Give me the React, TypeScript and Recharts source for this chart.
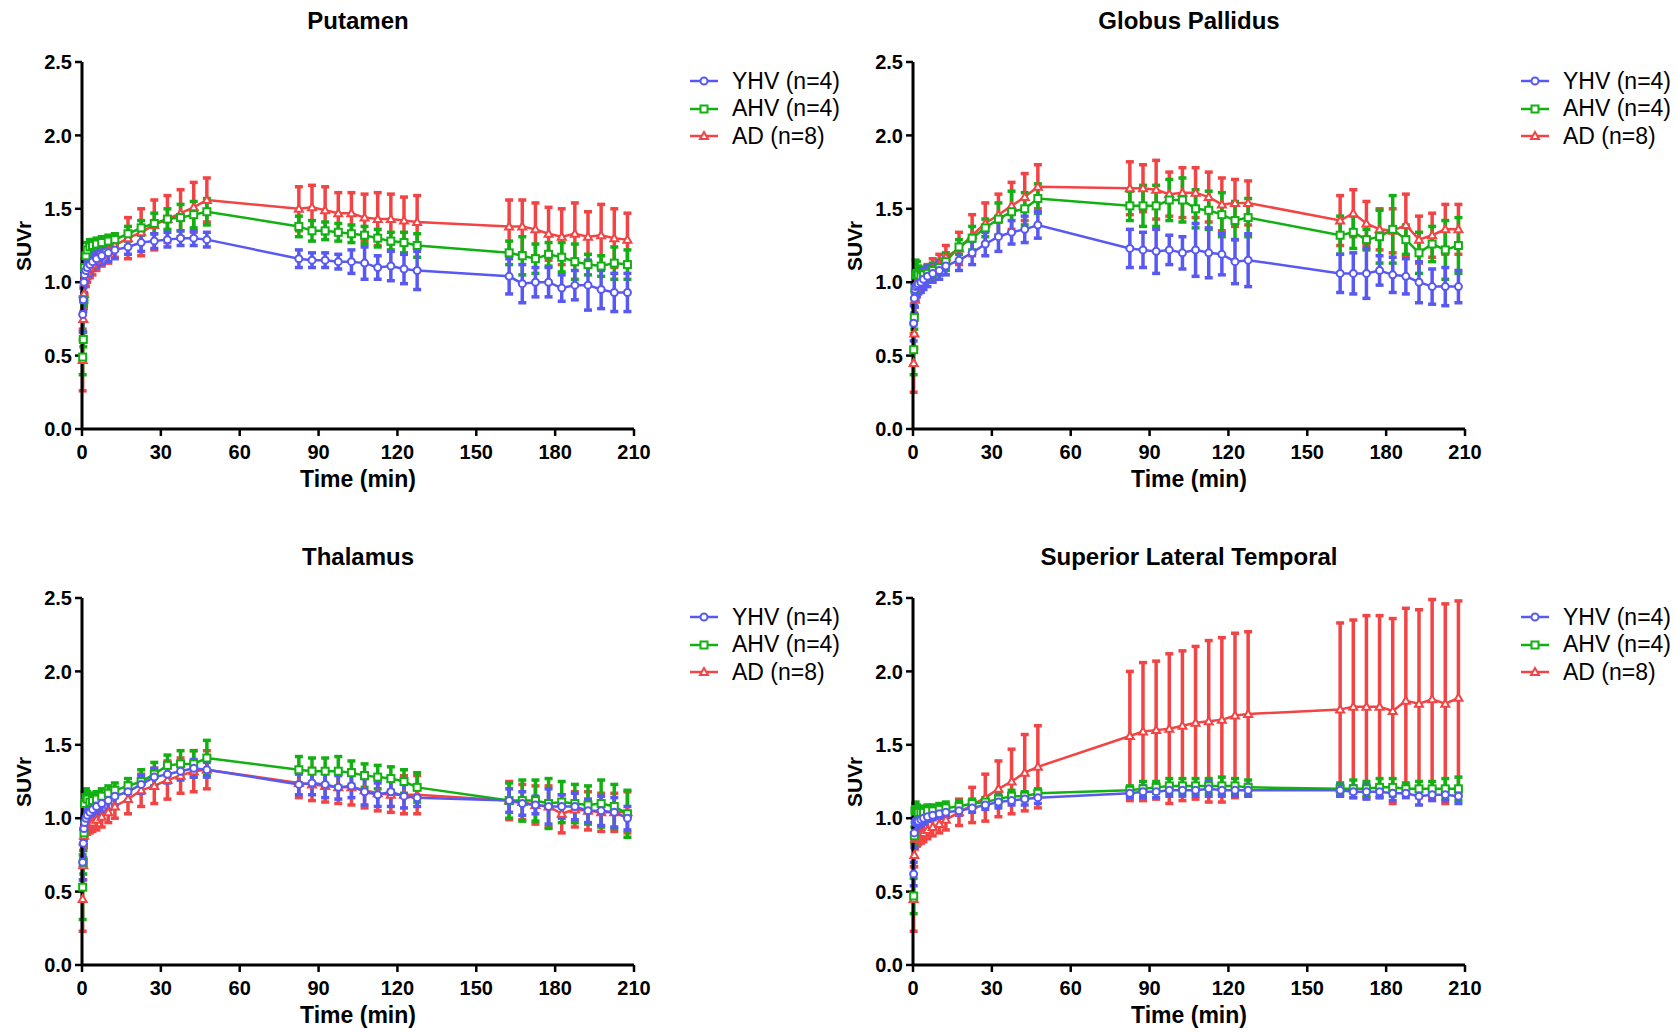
import React from 'react';
import { LineChart, Line, XAxis, YAxis, ErrorBar } from 'recharts';

// frame mid-times (min)
const TIME = [
  0.25, 0.5, 0.75, 1, 1.5, 2, 3, 4, 5.5, 7.5, 10, 12.5,
  17.5, 22.5, 27.5, 32.5, 37.5, 42.5, 47.5,
  82.5, 87.5, 92.5, 97.5, 102.5, 107.5, 112.5, 117.5, 122.5, 127.5,
  162.5, 167.5, 172.5, 177.5, 182.5, 187.5, 192.5, 197.5, 202.5, 207.5,
];
const X_TICKS = [0, 30, 60, 90, 120, 150, 180, 210];
const Y_TICKS = [0, 0.5, 1, 1.5, 2, 2.5];

// Putamen
const PUT_YHV = [0.78,0.88,1.00,1.05,1.08,1.10,1.12,1.14,1.16,1.18,1.20,1.22, 1.24,1.27,1.28,1.29,1.30,1.30,1.29, 1.16,1.15,1.15,1.14,1.14,1.13,1.10,1.11,1.09,1.08, 1.04,0.99,1.00,1.00,0.96,0.98,0.98,0.95,0.93,0.93];
const PUT_YHV_SD = [0.12,0.08,0.07,0.07,0.07,0.07,0.07,0.06,0.06,0.06,0.06,0.06, 0.05,0.06,0.05,0.05,0.05,0.05,0.05, 0.06,0.05,0.05,0.05,0.08,0.11,0.08,0.10,0.10,0.13, 0.12,0.13,0.10,0.10,0.09,0.10,0.17,0.13,0.13,0.13];
const PUT_AHV = [0.49,0.61,0.88,1.10,1.18,1.22,1.24,1.25,1.26,1.27,1.28,1.29, 1.33,1.37,1.40,1.43,1.44,1.46,1.48, 1.38,1.35,1.35,1.34,1.33,1.32,1.30,1.28,1.27,1.25, 1.20,1.18,1.16,1.19,1.17,1.14,1.12,1.11,1.13,1.12];
const PUT_AHV_SD = [0.12,0.05,0.04,0.06,0.05,0.05,0.05,0.04,0.04,0.04,0.04,0.04, 0.05,0.05,0.07,0.07,0.09,0.09,0.09, 0.07,0.07,0.06,0.06,0.06,0.06,0.06,0.06,0.07,0.08, 0.08,0.13,0.10,0.08,0.10,0.12,0.07,0.07,0.11,0.10];
const PUT_AD = [0.47,0.75,0.92,1.00,1.04,1.07,1.10,1.12,1.15,1.18,1.21,1.25, 1.30,1.34,1.39,1.43,1.47,1.51,1.56, 1.50,1.51,1.49,1.47,1.47,1.44,1.43,1.43,1.42,1.41, 1.38,1.38,1.36,1.33,1.31,1.33,1.31,1.32,1.30,1.29];
const PUT_AD_SD = [0.21,0.12,0.10,0.08,0.07,0.07,0.07,0.07,0.07,0.07,0.08,0.08, 0.14,0.16,0.17,0.16,0.16,0.17,0.15, 0.15,0.15,0.16,0.14,0.14,0.16,0.18,0.17,0.16,0.18, 0.18,0.18,0.18,0.18,0.19,0.21,0.17,0.21,0.20,0.18];

// Globus Pallidus
const GP_YHV = [0.72,0.89,0.95,0.97,0.98,0.99,1.00,1.02,1.04,1.06,1.08,1.11, 1.15,1.20,1.26,1.31,1.34,1.36,1.39, 1.23,1.22,1.21,1.22,1.20,1.22,1.20,1.19,1.14,1.15, 1.06,1.06,1.06,1.08,1.05,1.04,1.00,0.97,0.97,0.97];
const GP_YHV_SD = [0.12,0.10,0.12,0.10,0.08,0.07,0.07,0.07,0.07,0.06,0.06,0.06, 0.07,0.08,0.08,0.10,0.08,0.09,0.09, 0.13,0.12,0.15,0.10,0.11,0.18,0.17,0.14,0.15,0.18, 0.13,0.14,0.17,0.10,0.12,0.12,0.14,0.12,0.13,0.11];
const GP_AHV = [0.54,0.76,0.95,1.05,1.06,1.05,1.04,1.05,1.06,1.08,1.10,1.14, 1.24,1.30,1.37,1.43,1.48,1.50,1.57, 1.52,1.52,1.52,1.56,1.56,1.50,1.49,1.46,1.42,1.44, 1.32,1.34,1.29,1.31,1.36,1.29,1.20,1.26,1.22,1.25];
const GP_AHV_SD = [0.17,0.08,0.08,0.10,0.08,0.06,0.06,0.05,0.05,0.05,0.05,0.06, 0.05,0.08,0.06,0.11,0.14,0.11,0.10, 0.10,0.14,0.14,0.14,0.15,0.13,0.13,0.15,0.13,0.13, 0.13,0.11,0.07,0.18,0.23,0.10,0.14,0.12,0.20,0.19];
const GP_AD = [0.45,0.65,0.88,0.96,1.00,1.01,1.02,1.04,1.06,1.09,1.12,1.17, 1.23,1.32,1.40,1.46,1.52,1.58,1.65, 1.64,1.64,1.63,1.60,1.61,1.61,1.58,1.53,1.54,1.54, 1.42,1.47,1.40,1.36,1.35,1.39,1.29,1.32,1.36,1.36];
const GP_AD_SD = [0.20,0.10,0.10,0.08,0.07,0.06,0.06,0.06,0.06,0.07,0.07,0.08, 0.11,0.14,0.14,0.14,0.16,0.16,0.15, 0.18,0.16,0.20,0.15,0.17,0.17,0.17,0.18,0.16,0.15, 0.17,0.16,0.15,0.14,0.15,0.21,0.16,0.15,0.17,0.17];

// Thalamus
const TH_YHV = [0.70,0.83,0.93,0.97,1.00,1.02,1.04,1.06,1.08,1.10,1.12,1.15, 1.18,1.23,1.28,1.30,1.32,1.34,1.33, 1.23,1.24,1.23,1.21,1.22,1.18,1.16,1.18,1.15,1.14, 1.12,1.10,1.09,1.08,1.08,1.08,1.05,1.05,1.04,1.00];
const TH_YHV_SD = [0.12,0.10,0.08,0.06,0.06,0.06,0.06,0.06,0.06,0.06,0.06,0.06, 0.06,0.06,0.06,0.06,0.06,0.06,0.05, 0.07,0.08,0.09,0.08,0.08,0.09,0.08,0.10,0.08,0.06, 0.08,0.08,0.06,0.12,0.08,0.09,0.08,0.10,0.10,0.08];
const TH_AHV = [0.53,0.70,0.90,1.10,1.14,1.13,1.11,1.12,1.13,1.15,1.17,1.19, 1.22,1.25,1.30,1.36,1.37,1.37,1.41, 1.33,1.32,1.32,1.32,1.31,1.29,1.28,1.27,1.25,1.21, 1.12,1.12,1.12,1.10,1.11,1.10,1.09,1.10,1.08,1.03];
const TH_AHV_SD = [0.22,0.08,0.08,0.08,0.06,0.05,0.05,0.05,0.05,0.05,0.05,0.05, 0.05,0.08,0.08,0.07,0.09,0.09,0.12, 0.09,0.09,0.09,0.10,0.08,0.08,0.08,0.08,0.08,0.10, 0.12,0.14,0.14,0.17,0.14,0.13,0.13,0.16,0.15,0.16];
const TH_AD = [0.45,0.68,0.88,0.94,0.95,0.95,0.96,0.97,0.99,1.01,1.04,1.08, 1.13,1.19,1.22,1.26,1.29,1.32,1.33, 1.24,1.23,1.22,1.21,1.21,1.19,1.17,1.16,1.16,1.16, 1.12,1.11,1.09,1.08,1.03,1.06,1.05,1.04,1.04,1.04];
const TH_AD_SD = [0.22,0.10,0.08,0.06,0.06,0.06,0.06,0.06,0.07,0.07,0.07,0.08, 0.10,0.11,0.12,0.13,0.12,0.14,0.13, 0.10,0.11,0.11,0.11,0.12,0.12,0.12,0.12,0.13,0.13, 0.13,0.12,0.13,0.14,0.13,0.12,0.13,0.13,0.13,0.14];

// Superior Lateral Temporal
const SLT_YHV = [0.62,0.90,0.97,0.98,0.98,0.98,0.99,1.00,1.01,1.02,1.03,1.04, 1.05,1.07,1.09,1.11,1.12,1.13,1.14, 1.17,1.18,1.18,1.19,1.19,1.19,1.20,1.19,1.19,1.19, 1.19,1.18,1.18,1.18,1.17,1.17,1.15,1.16,1.16,1.15];
const SLT_YHV_SD = [0.08,0.10,0.07,0.06,0.05,0.04,0.04,0.04,0.03,0.03,0.03,0.03, 0.03,0.03,0.03,0.04,0.03,0.04,0.04, 0.03,0.04,0.04,0.04,0.04,0.04,0.05,0.04,0.04,0.04, 0.04,0.04,0.05,0.04,0.05,0.03,0.06,0.04,0.04,0.05];
const SLT_AHV = [0.47,0.88,1.05,1.06,1.05,1.04,1.04,1.04,1.05,1.05,1.06,1.07, 1.08,1.10,1.11,1.13,1.15,1.15,1.17, 1.19,1.20,1.21,1.22,1.22,1.22,1.22,1.22,1.22,1.21, 1.20,1.20,1.20,1.21,1.21,1.20,1.20,1.20,1.20,1.20];
const SLT_AHV_SD = [0.12,0.06,0.05,0.05,0.04,0.04,0.04,0.04,0.04,0.04,0.04,0.04, 0.04,0.03,0.03,0.04,0.04,0.03,0.03, 0.03,0.05,0.04,0.05,0.05,0.05,0.05,0.06,0.05,0.05, 0.04,0.06,0.05,0.06,0.06,0.04,0.05,0.05,0.07,0.08];
const SLT_AD = [0.45,0.75,0.86,0.87,0.87,0.88,0.89,0.90,0.92,0.94,0.96,0.99, 1.04,1.09,1.14,1.20,1.25,1.31,1.35, 1.56,1.59,1.60,1.61,1.63,1.65,1.66,1.67,1.70,1.71, 1.74,1.76,1.76,1.76,1.73,1.80,1.78,1.81,1.78,1.82];
const SLT_AD_SD = [0.22,0.08,0.07,0.06,0.06,0.06,0.06,0.06,0.06,0.06,0.06,0.07, 0.09,0.12,0.16,0.19,0.22,0.26,0.28, 0.44,0.47,0.47,0.51,0.51,0.52,0.55,0.56,0.56,0.56, 0.59,0.59,0.62,0.62,0.63,0.63,0.64,0.68,0.68,0.66];

const BLUE = '#5858f2';
const GREEN = '#12b012';
const RED = '#f24444';
const FONT = '"Liberation Sans", Arial, sans-serif';

const circleDot = (color: string) => (p: any) =>
  p.cx == null ? null : (
    <circle key={`c-${p.index}`} cx={p.cx} cy={p.cy} r={3.5} fill="#fff" stroke={color} strokeWidth={2} />
  );
const squareDot = (color: string) => (p: any) =>
  p.cx == null ? null : (
    <rect key={`s-${p.index}`} x={p.cx - 3.5} y={p.cy - 3.5} width={7} height={7} fill="#fff" stroke={color} strokeWidth={2} />
  );
const triangleDot = (color: string) => (p: any) =>
  p.cx == null ? null : (
    <polygon
      key={`t-${p.index}`}
      points={`${p.cx},${p.cy - 4} ${p.cx - 4},${p.cy + 3} ${p.cx + 4},${p.cy + 3}`}
      fill="#fff"
      stroke={color}
      strokeWidth={2}
    />
  );

const LEGEND = [
  { label: 'YHV (n=4)', color: BLUE, shape: 'circle' },
  { label: 'AHV (n=4)', color: GREEN, shape: 'square' },
  { label: 'AD (n=8)', color: RED, shape: 'triangle' },
];

const LegendIcon = ({ color, shape }: { color: string; shape: string }) => (
  <svg width={28} height={14} style={{ display: 'block' }}>
    <line x1={0} y1={7} x2={28} y2={7} stroke={color} strokeWidth={2.5} />
    {shape === 'circle' && <circle cx={14} cy={7} r={3.5} fill="#fff" stroke={color} strokeWidth={2} />}
    {shape === 'square' && <rect x={10.5} y={3.5} width={7} height={7} fill="#fff" stroke={color} strokeWidth={2} />}
    {shape === 'triangle' && <polygon points="14,3 10,10 18,10" fill="#fff" stroke={color} strokeWidth={2} />}
  </svg>
);

interface PanelProps {
  left: number;
  top: number;
  title: string;
  yhv: number[];
  yhvSd: number[];
  ahv: number[];
  ahvSd: number[];
  ad: number[];
  adSd: number[];
}

const Panel: React.FC<PanelProps> = ({ left, top, title, yhv, yhvSd, ahv, ahvSd, ad, adSd }) => {
  const data = TIME.map((t, i) => ({
    t,
    yhv: yhv[i],
    yhvSd: yhvSd[i],
    ahv: ahv[i],
    ahvSd: ahvSd[i],
    ad: ad[i],
    adSd: adSd[i],
  }));

  const tick = { fill: '#000', fontSize: 20, fontWeight: 700, fontFamily: FONT };
  const axisLine = { stroke: '#000', strokeWidth: 3 };
  const tickLine = { stroke: '#000', strokeWidth: 2.5 };

  return (
    <div style={{ position: 'absolute', left, top, width: 830, height: 500, fontFamily: FONT }}>
      <div style={{ position: 'absolute', left: 82, width: 552, top: 9, textAlign: 'center', fontSize: 24, lineHeight: '24px', fontWeight: 700 }}>
        {title}
      </div>
      <LineChart width={830} height={500} data={data} margin={{ top: 62, right: 196, bottom: 31, left: 0 }}>
        <XAxis
          type="number"
          dataKey="t"
          domain={[0, 210]}
          ticks={X_TICKS}
          height={40}
          tick={tick}
          axisLine={axisLine}
          tickLine={tickLine}
          tickSize={7}
          tickMargin={9}
          interval={0}
        />
        <YAxis
          type="number"
          domain={[0, 2.5]}
          ticks={Y_TICKS}
          width={82}
          tick={tick}
          axisLine={axisLine}
          tickLine={tickLine}
          tickSize={7}
          tickMargin={3}
          interval={0}
          tickFormatter={(v: number) => v.toFixed(1)}
        />
        <Line type="linear" dataKey="ad" stroke={RED} strokeWidth={2.5} dot={triangleDot(RED)} activeDot={false} isAnimationActive={false}>
          <ErrorBar dataKey="adSd" width={4} strokeWidth={3.5} stroke={RED} direction="y" />
        </Line>
        <Line type="linear" dataKey="ahv" stroke={GREEN} strokeWidth={2.5} dot={squareDot(GREEN)} activeDot={false} isAnimationActive={false}>
          <ErrorBar dataKey="ahvSd" width={4} strokeWidth={3.5} stroke={GREEN} direction="y" />
        </Line>
        <Line type="linear" dataKey="yhv" stroke={BLUE} strokeWidth={2.5} dot={circleDot(BLUE)} activeDot={false} isAnimationActive={false}>
          <ErrorBar dataKey="yhvSd" width={4} strokeWidth={3.5} stroke={BLUE} direction="y" />
        </Line>
      </LineChart>
      <div style={{ position: 'absolute', left: 82, width: 552, top: 468, textAlign: 'center', fontSize: 23, lineHeight: '23px', fontWeight: 700 }}>
        Time (min)
      </div>
      <div
        style={{
          position: 'absolute',
          left: 24,
          top: 246,
          transform: 'translate(-50%, -50%) rotate(-90deg)',
          fontSize: 21,
          fontWeight: 700,
          whiteSpace: 'nowrap',
        }}
      >
        SUVr
      </div>
      {LEGEND.map((item, i) => (
        <div
          key={item.label}
          style={{ position: 'absolute', left: 690, top: 81 + i * 27.5 - 12, height: 24, display: 'flex', alignItems: 'center', whiteSpace: 'nowrap' }}
        >
          <LegendIcon color={item.color} shape={item.shape} />
          <span style={{ marginLeft: 14, fontSize: 23, color: '#000' }}>{item.label}</span>
        </div>
      ))}
    </div>
  );
};

export default function App() {
  return (
    <div style={{ position: 'absolute', left: 0, top: 0, width: 1676, height: 1032, background: '#fff' }}>
      <Panel left={0} top={0} title="Putamen" yhv={PUT_YHV} yhvSd={PUT_YHV_SD} ahv={PUT_AHV} ahvSd={PUT_AHV_SD} ad={PUT_AD} adSd={PUT_AD_SD} />
      <Panel left={831} top={0} title="Globus Pallidus" yhv={GP_YHV} yhvSd={GP_YHV_SD} ahv={GP_AHV} ahvSd={GP_AHV_SD} ad={GP_AD} adSd={GP_AD_SD} />
      <Panel left={0} top={536} title="Thalamus" yhv={TH_YHV} yhvSd={TH_YHV_SD} ahv={TH_AHV} ahvSd={TH_AHV_SD} ad={TH_AD} adSd={TH_AD_SD} />
      <Panel left={831} top={536} title="Superior Lateral Temporal" yhv={SLT_YHV} yhvSd={SLT_YHV_SD} ahv={SLT_AHV} ahvSd={SLT_AHV_SD} ad={SLT_AD} adSd={SLT_AD_SD} />
    </div>
  );
}
